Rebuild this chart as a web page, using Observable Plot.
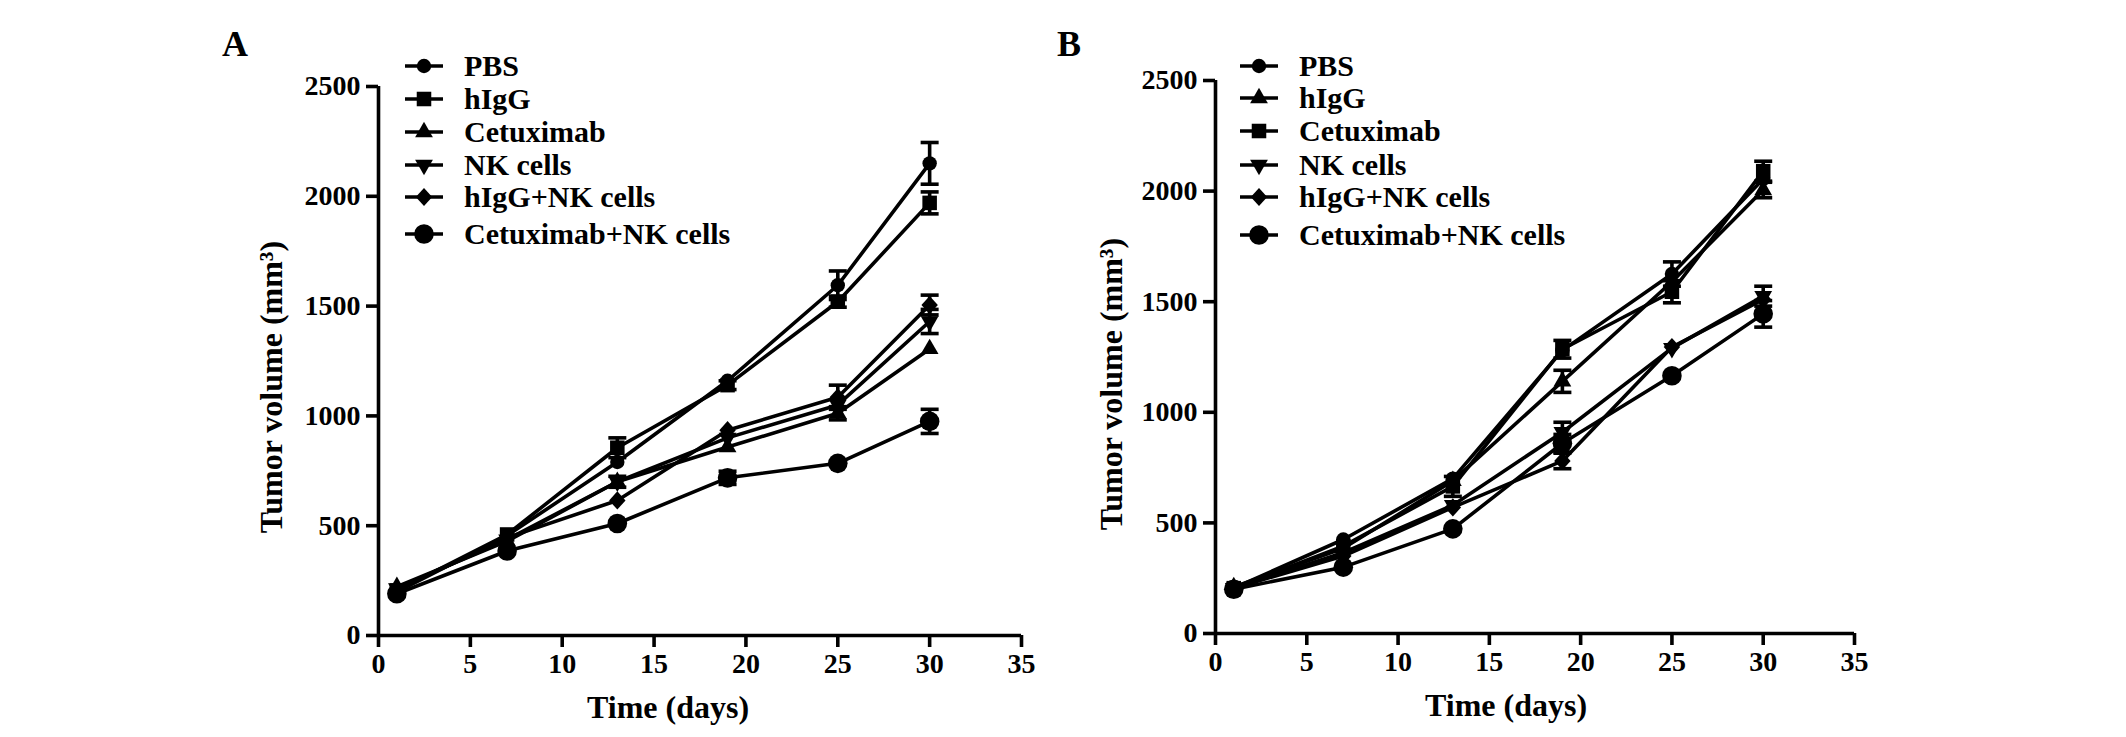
<!DOCTYPE html>
<html>
<head>
<meta charset="utf-8">
<script src="https://cdn.jsdelivr.net/npm/d3@7"></script>
<script src="https://cdn.jsdelivr.net/npm/@observablehq/plot@0.6"></script>
<style>
  html, body { margin: 0; padding: 0; background: #fff; }
  #root { position: relative; width: 2126px; height: 737px; background: #fff; overflow: hidden;
          font-family: "Liberation Serif", "Times New Roman", serif; font-weight: bold; color: #000; }
  .panel { position: absolute; top: 0; }
  .letter { position: absolute; font-size: 36px; line-height: 1; font-weight: bold; }
  .legrow { position: absolute; height: 32px; display: flex; align-items: center; font-size: 30px; white-space: nowrap; }
  .legrow svg { flex: none; }
  .legrow span { margin-left: 20px; line-height: 1; }
</style>
</head>
<body>
<div id="root"></div>
<script>
// ---------------- data ----------------
const days = [1, 7, 13, 19, 25, 30];
const xTicks = [0, 5, 10, 15, 20, 25, 30, 35];
const yTicks = [0, 500, 1000, 1500, 2000, 2500];
const xLabel = "Time (days)";
const yLabel = "Tumor volume (mm³)";

// Panel A groups (legend order)
const groupsA = ["PBS", "hIgG", "Cetuximab", "NK cells", "hIgG+NK cells", "Cetuximab+NK cells"];
const a_PBS        = [198, 455, 790, 1160, 1595, 2150];
const a_PBS_sem    = [0, 0, 0, 0, 65, 95];
const a_hIgG       = [205, 460, 855, 1140, 1520, 1970];
const a_hIgG_sem   = [0, 0, 45, 20, 25, 50];
const a_Cetux      = [222, 430, 700, 858, 1012, 1305];
const a_Cetux_sem  = [0, 0, 0, 0, 30, 0];
const a_NK         = [215, 437, 700, 900, 1050, 1430];
const a_NK_sem     = [0, 0, 25, 0, 0, 55];
const a_hIgGNK     = [210, 445, 615, 935, 1085, 1505];
const a_hIgGNK_sem = [0, 0, 0, 0, 55, 45];
const a_CetNK      = [190, 385, 510, 718, 784, 975];
const a_CetNK_sem  = [0, 0, 0, 30, 0, 55];

// Panel B groups (legend order)
const groupsB = ["PBS", "hIgG", "Cetuximab", "NK cells", "hIgG+NK cells", "Cetuximab+NK cells"];
const b_PBS        = [205, 425, 700, 1280, 1625, 2055];
const b_PBS_sem    = [0, 0, 0, 0, 55, 0];
const b_hIgG       = [210, 385, 690, 1140, 1590, 2005];
const b_hIgG_sem   = [0, 0, 0, 50, 0, 35];
const b_Cetux      = [205, 395, 665, 1285, 1545, 2090];
const b_Cetux_sem  = [0, 0, 45, 40, 50, 45];
const b_NK         = [205, 365, 580, 910, 1290, 1525];
const b_NK_sem     = [0, 0, 0, 45, 0, 45];
const b_hIgGNK     = [205, 350, 570, 780, 1295, 1510];
const b_hIgGNK_sem = [0, 0, 0, 35, 0, 0];
const b_CetNK      = [200, 300, 473, 860, 1165, 1445];
const b_CetNK_sem  = [0, 0, 0, 40, 0, 60];

// ---------------- symbols ----------------
const triDown = {
  draw(ctx, size) {
    d3.symbolTriangle.draw({
      moveTo: (x, y) => ctx.moveTo(x, -y),
      lineTo: (x, y) => ctx.lineTo(x, -y),
      closePath: () => ctx.closePath()
    }, size);
  }
};
const rhombus = {
  draw(ctx, size) {
    const s = Math.sqrt(size / 2);
    const h = s * 1.05, w = s * 0.95;
    ctx.moveTo(0, -h); ctx.lineTo(w, 0); ctx.lineTo(0, h); ctx.lineTo(-w, 0); ctx.closePath();
  }
};
const cap = {
  draw(ctx, size) { const w = 9; ctx.moveTo(-w, 0); ctx.lineTo(w, 0); }
};
const SYM = {
  circle:   {type: d3.symbolCircle, r: 7.2},
  square:   {type: d3.symbolSquare, r: 8.2},
  triangle: {type: d3.symbolTriangle, r: 6.6},
  triDown:  {type: triDown, r: 6.6},
  diamond:  {type: rhombus, r: 6.9},
  big:      {type: d3.symbolCircle, r: 9.8}
};

const seriesA = [
  {name: groupsA[0], v: a_PBS,   e: a_PBS_sem,   sym: "circle"},
  {name: groupsA[1], v: a_hIgG,  e: a_hIgG_sem,  sym: "square"},
  {name: groupsA[2], v: a_Cetux, e: a_Cetux_sem, sym: "triangle"},
  {name: groupsA[3], v: a_NK,    e: a_NK_sem,    sym: "triDown"},
  {name: groupsA[4], v: a_hIgGNK,e: a_hIgGNK_sem,sym: "diamond"},
  {name: groupsA[5], v: a_CetNK, e: a_CetNK_sem, sym: "big"}
];
const seriesB = [
  {name: groupsB[0], v: b_PBS,   e: b_PBS_sem,   sym: "circle"},
  {name: groupsB[1], v: b_hIgG,  e: b_hIgG_sem,  sym: "triangle"},
  {name: groupsB[2], v: b_Cetux, e: b_Cetux_sem, sym: "square"},
  {name: groupsB[3], v: b_NK,    e: b_NK_sem,    sym: "triDown"},
  {name: groupsB[4], v: b_hIgGNK,e: b_hIgGNK_sem,sym: "diamond"},
  {name: groupsB[5], v: b_CetNK, e: b_CetNK_sem, sym: "big"}
];

const LW = 3.6;

function seriesMarks(series) {
  const lines = [], bars = [], dots = [];
  for (const s of series) {
    const rows = days.map((d, i) => ({day: d, v: s.v[i], e: s.e[i]}));
    const eb = rows.filter(r => r.e > 0);
    lines.push(Plot.line(rows, {x: "day", y: "v", stroke: "black", strokeWidth: LW}));
    bars.push(Plot.ruleX(eb, {x: "day", y1: r => r.v - r.e, y2: r => r.v + r.e, stroke: "black", strokeWidth: LW}));
    bars.push(Plot.dot(eb, {x: "day", y: r => r.v + r.e, symbol: cap, r: 5, fill: "none", stroke: "black", strokeWidth: LW}));
    bars.push(Plot.dot(eb, {x: "day", y: r => r.v - r.e, symbol: cap, r: 5, fill: "none", stroke: "black", strokeWidth: LW}));
    dots.push(Plot.dot(rows, {x: "day", y: "v", symbol: SYM[s.sym].type, r: SYM[s.sym].r, fill: "black", stroke: "none"}));
  }
  return [...lines, ...bars, ...dots];
}

function makePanel(series, cfg) {
  return Plot.plot({
    width: 1063, height: 737,
    marginLeft: cfg.ml, marginRight: cfg.mr, marginTop: cfg.mt, marginBottom: cfg.mb,
    x: {domain: [0, 35], label: null},
    y: {domain: [0, 2500], label: null},
    style: {fontFamily: '"Liberation Serif", "Times New Roman", serif', fontWeight: "bold", fontSize: "27px",
            color: "black", background: "transparent", overflow: "visible"},
    marks: [
      Plot.axisX({ticks: xTicks, tickFormat: d => String(d), tickSize: 12, tickPadding: 6, strokeWidth: LW, label: null, fontSize: 28}),
      Plot.axisY({ticks: yTicks, tickFormat: d => String(d), tickSize: 12, tickPadding: 6, strokeWidth: LW, label: null, fontSize: 28}),
      Plot.ruleX([0], {strokeWidth: LW, stroke: "black"}),
      Plot.ruleY([0], {strokeWidth: LW, stroke: "black"}),
      Plot.text([xLabel], {text: d => d, frameAnchor: "bottom", textAnchor: "middle", lineAnchor: "bottom",
                           dx: cfg.xdx, dy: 82, fontSize: 32, fontWeight: "bold"}),
      Plot.text([yLabel], {text: d => d, frameAnchor: "left", textAnchor: "middle", lineAnchor: "middle",
                           rotate: -90, dx: cfg.ydx, dy: cfg.ydy, fontSize: 32, fontWeight: "bold"}),
      ...seriesMarks(series)
    ]
  });
}

const root = document.getElementById("root");

function addPanel(series, left, cfg, letter, letterX, legX, legRows) {
  const div = document.createElement("div");
  div.className = "panel";
  div.style.left = left + "px";
  div.appendChild(makePanel(series, cfg));
  root.appendChild(div);

  const L = document.createElement("div");
  L.className = "letter";
  L.textContent = letter;
  L.style.left = letterX + "px";
  L.style.top = "26px";
  root.appendChild(L);

  series.forEach((s, i) => {
    const row = document.createElement("div");
    row.className = "legrow";
    row.style.left = legX + "px";
    row.style.top = (legRows[i] - 16) + "px";
    const svg = d3.create("svg").attr("width", 40).attr("height", 32);
    svg.append("line").attr("x1", 1).attr("x2", 39).attr("y1", 16).attr("y2", 16)
      .attr("stroke", "black").attr("stroke-width", LW);
    const sy = SYM[s.sym];
    svg.append("path").attr("transform", "translate(20,16)")
      .attr("d", d3.symbol(sy.type, sy.r * sy.r * Math.PI)()).attr("fill", "black");
    row.appendChild(svg.node());
    const t = document.createElement("span");
    t.textContent = s.name;
    row.appendChild(t);
    root.appendChild(row);
  });
}

addPanel(seriesA, 0, {ml: 378, mr: 42, mt: 86, mb: 102, xdx: -32, ydx: -107, ydy: 26},
  "A", 222, 404, [66, 99, 132, 165, 197, 234]);
addPanel(seriesB, 1063, {ml: 152, mr: 272, mt: 80, mb: 104, xdx: -29, ydx: -104, ydy: 27},
  "B", 1057, 1239, [66, 98, 131, 165, 197, 235]);
</script>
</body>
</html>
